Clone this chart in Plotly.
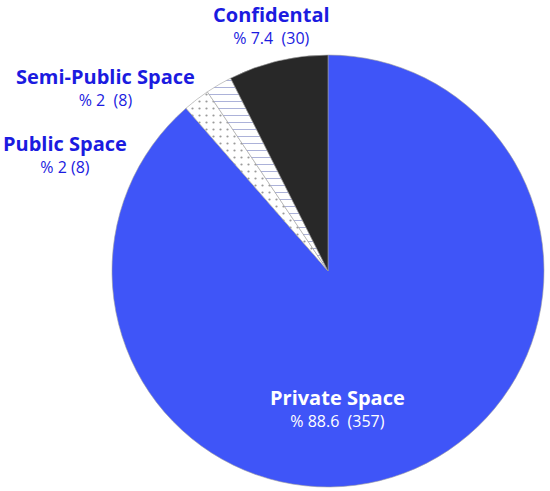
import plotly.graph_objects as go

labels = ["Private Space", "Public Space", "Semi-Public Space", "Confidental"]
counts = [357, 8, 8, 30]
percents = ["88.6", "2", "2", "7.4"]
colors = ["#3F55F8", "#FFFFFF", "#DDE1F6", "#282828"]
shapes = ["", ".", "-", ""]

fig = go.Figure(go.Pie(
    labels=labels,
    values=counts,
    sort=False,
    direction="clockwise",
    rotation=0,
    textinfo="none",
    hoverinfo="label+value",
    marker=dict(
        colors=colors,
        line=dict(color="#A0A0A0", width=0.6),
        pattern=dict(shape=shapes, fgcolor=["#3F55F8", "#9A9A9A", "#8890C8", "#282828"],
                     size=[8, 7, 7, 8], solidity=[0.3, 0.08, 0.1, 0.3]),
    ),
    domain=dict(x=[112 / 550, 544 / 550], y=[1 - 487 / 491, 1 - 55 / 491]),
    showlegend=False,
))

blue = "#1B1BE0"
font = "Open Sans, Noto Sans, sans-serif"
ann = [
    (labels[3], f"% {percents[3]}  ({counts[3]})", 271, 13, 37, blue),
    (labels[2], f"% {percents[2]}  ({counts[2]})", 105, 76, 98, blue),
    (labels[1], f"% {percents[1]} ({counts[1]})", 65, 143, 165, blue),
    (labels[0], f"% {percents[0]}  ({counts[0]})", 337, 396, 419, "#FFFFFF"),
]
annotations = []
for name, sub, x, y1, y2, c in ann:
    annotations.append(dict(
        x=x / 550, y=1 - ((y1 + y2) / 2) / 491, xref="paper", yref="paper",
        text=(f"<b><span style='font-size:20px'>{name}</span></b><br>"
              f"<span style='font-size:16px'>{sub}</span>"),
        showarrow=False, align="center",
        font=dict(size=17, color=c, family=font),
        xanchor="center", yanchor="middle"))

fig.update_layout(
    width=550, height=491,
    margin=dict(l=0, r=0, t=0, b=0),
    paper_bgcolor="white",
    annotations=annotations,
)
fig.write_html("out.html", config={"displayModeBar": False},
               post_script="document.body.style.margin='0px';")
